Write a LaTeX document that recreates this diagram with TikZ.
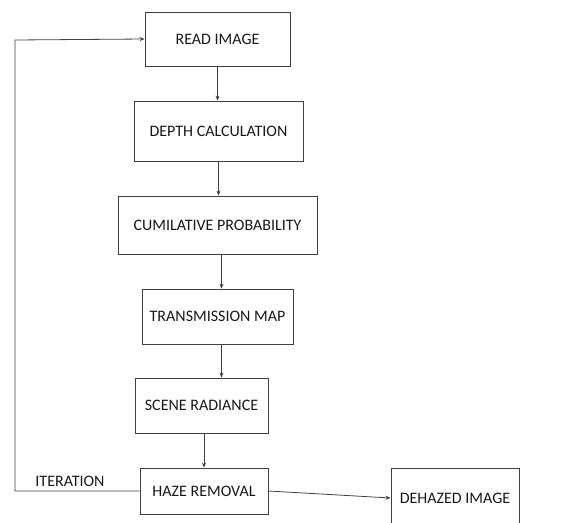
\documentclass[tikz,border=0pt]{standalone}
\usepackage{fontspec}
\setmainfont{Carlito}
\usetikzlibrary{arrows.meta}
\begin{document}
\begin{tikzpicture}[x=1pt,y=-1pt,
  boxstyle/.style={draw=black!75,line width=0.8pt,fill=white,inner sep=0pt,font=\fontsize{16}{19}\selectfont,text=black!90},
  conn/.style={draw=black!75,line width=0.8pt,-{Stealth[length=5pt,width=4pt]}}]
\useasboundingbox (0,0) rectangle (570,522);
\node[boxstyle,minimum width=145pt,minimum height=54pt] (read) at (217.5,39) {READ IMAGE};
\node[boxstyle,minimum width=169pt,minimum height=60pt] (depth) at (218.5,131) {DEPTH CALCULATION};
\node[boxstyle,minimum width=199pt,minimum height=58pt] (cum) at (217.5,225) {CUMILATIVE PROBABILITY};
\node[boxstyle,minimum width=151pt,minimum height=55pt] (trans) at (217.5,316.5) {TRANSMISSION MAP};
\node[boxstyle,minimum width=133pt,minimum height=55pt] (scene) at (201.5,405.5) {SCENE RADIANCE};
\node[boxstyle,minimum width=128pt,minimum height=46pt] (haze) at (204,491) {HAZE REMOVAL};
\node[boxstyle,minimum width=128pt,minimum height=60pt] (dehazed) at (455,498) {DEHAZED IMAGE};
\node[font=\fontsize{16}{19}\selectfont,text=black!90] (iter) at (70,481) {ITERATION};
\coordinate (c1) at (15,491);
\coordinate (c2) at (15,40);
\draw[conn] (read.south) -- (read.south |- depth.north);
\draw[conn] (depth.south) -- (depth.south |- cum.north);
\draw[conn] ([xshift=4pt]cum.south) -- ([xshift=4pt]cum.south |- trans.north);
\draw[conn] ([xshift=4pt]trans.south) -- ([xshift=4pt]trans.south |- scene.north);
\draw[conn] ([xshift=2.5pt]scene.south) -- ([xshift=2.5pt]scene.south |- haze.north);
\draw[conn] (haze.east) -- (dehazed.west);
\draw[conn] (haze.west) -- (c1) -- (c2) -- (read.west);
\end{tikzpicture}
\end{document}
